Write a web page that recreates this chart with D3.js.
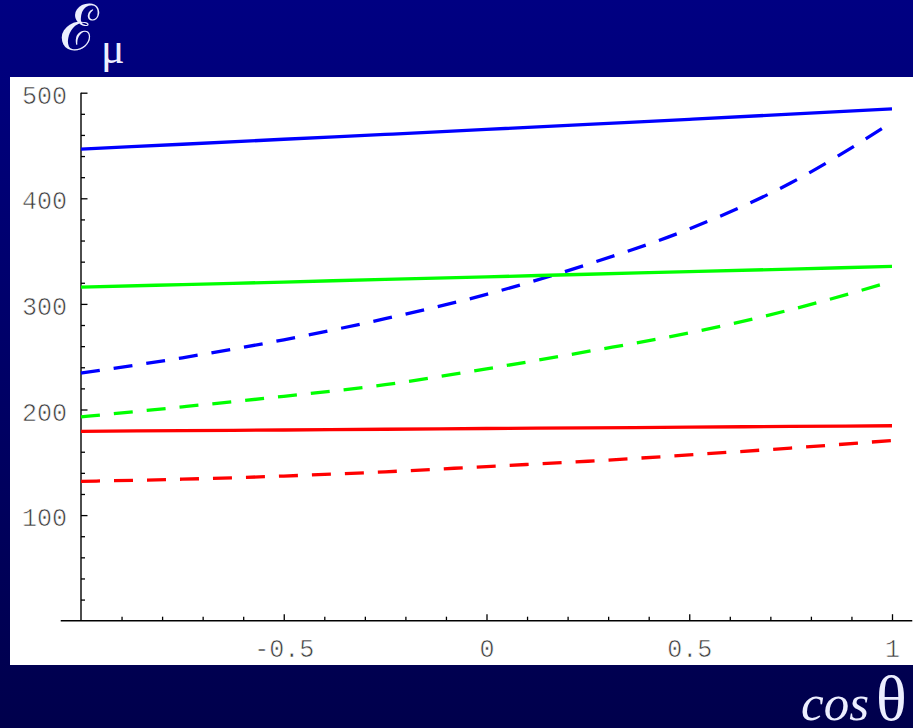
<!DOCTYPE html>
<html>
<head>
<meta charset="utf-8">
<script src="https://cdn.jsdelivr.net/npm/d3@7"></script>
<style>
  html, body { margin: 0; padding: 0; background: #000066; }
  svg { display: block; }
</style>
</head>
<body>
<svg id="chart" width="913" height="728"></svg>
<script>
// Muon energy versus cos(theta): solid and dashed curves for three cases
const cosTheta = [-1, -0.75, -0.5, -0.25, 0, 0.25, 0.5, 0.75, 1];
const blueSolid  = [446.5, 451.2, 455.9, 460.5, 465.2, 470.0, 474.8, 479.7, 484.7];
const blueDashed = [234.5, 249, 266, 286, 309, 337.5, 371, 414.5, 472];
const greenSolid  = [315.8, 318.3, 320.7, 323.2, 325.6, 328.1, 330.5, 333.0, 335.5];
const greenDashed = [193, 202.5, 212.5, 223.5, 238.5, 255, 272.5, 294.5, 321.3];
const redSolid  = [179.3, 180.0, 180.6, 181.3, 182.0, 182.6, 183.3, 184.0, 184.6];
const redDashed = [132, 134, 137, 141, 146, 151, 157, 163.5, 170.7];

const xMajorTicks = [-0.5, 0, 0.5, 1];
const xTickLabels = ["-0.5", "0", "0.5", "1"];
const yMajorTicks = [100, 200, 300, 400, 500];
const yTickLabels = ["100", "200", "300", "400", "500"];

const series = [
  { values: blueSolid,   color: "#0000ff", dashed: false },
  { values: blueDashed,  color: "#0000ff", dashed: true },
  { values: greenSolid,  color: "#00ff00", dashed: false },
  { values: greenDashed, color: "#00ff00", dashed: true },
  { values: redSolid,    color: "#ff0000", dashed: false },
  { values: redDashed,   color: "#ff0000", dashed: true }
];

const W = 913, H = 728;
const svg = d3.select("#chart");

// dark blue backdrop, fading downward
const defs = svg.append("defs");
const grad = defs.append("linearGradient").attr("id", "bg")
  .attr("x1", 0).attr("y1", 0).attr("x2", 0).attr("y2", 1);
grad.append("stop").attr("offset", "0%").attr("stop-color", "#000082");
grad.append("stop").attr("offset", "100%").attr("stop-color", "#00004c");
svg.append("rect").attr("width", W).attr("height", H).attr("fill", "url(#bg)");

// white plotting panel
svg.append("rect").attr("x", 10).attr("y", 77).attr("width", W - 10).attr("height", 588)
  .attr("fill", "#ffffff");

const x = d3.scaleLinear().domain([-1, 1]).range([81, 892]);
const y = d3.scaleLinear().domain([0, 500]).range([620.7, 92.7]);

const axisG = svg.append("g");

// axis lines
axisG.append("line")
  .attr("x1", x(-1.05)).attr("x2", x(1.05))
  .attr("y1", y(0)).attr("y2", y(0))
  .attr("stroke", "#000").attr("stroke-width", 1.4);
axisG.append("line")
  .attr("x1", x(-1)).attr("x2", x(-1))
  .attr("y1", y(0)).attr("y2", y(500))
  .attr("stroke", "#000").attr("stroke-width", 1.4);

const labelFont = "'Liberation Mono', 'Courier New', monospace";

// x axis: major ticks with labels, minor ticks every 0.1
const xMinor = d3.range(-9, 11).map(d => d / 10).filter(d => !xMajorTicks.some(m => Math.abs(m - d) < 1e-9));
const xAxisMinor = d3.axisBottom(x).tickValues(xMinor).tickSize(-4).tickFormat("");
const xAxisMajor = d3.axisBottom(x).tickValues(xMajorTicks).tickSize(-6.5)
  .tickPadding(22).tickFormat((d, i) => xTickLabels[i]);

const gxMinor = axisG.append("g").attr("transform", `translate(0,${y(0)})`).call(xAxisMinor);
const gxMajor = axisG.append("g").attr("transform", `translate(0,${y(0)})`).call(xAxisMajor);

// y axis: major ticks with labels, minor ticks every 20
const yMinor = d3.range(20, 500, 20).filter(d => d % 100 !== 0);
const yAxisMinor = d3.axisLeft(y).tickValues(yMinor).tickSize(-4).tickFormat("");
const yAxisMajor = d3.axisLeft(y).tickValues(yMajorTicks).tickSize(-6.5)
  .tickPadding(14).tickFormat((d, i) => yTickLabels[i]);

const gyMinor = axisG.append("g").attr("transform", `translate(${x(-1)},0)`).call(yAxisMinor);
const gyMajor = axisG.append("g").attr("transform", `translate(${x(-1)},0)`).call(yAxisMajor);

[gxMinor, gxMajor, gyMinor, gyMajor].forEach(g => {
  g.select(".domain").remove();
  g.selectAll(".tick line").attr("stroke", "#000").attr("stroke-width", 1.3);
  // thin, typewriter-like labels: a white outline drawn over the fill slims the glyphs
  g.selectAll(".tick text")
    .attr("font-family", labelFont)
    .attr("font-size", 25)
    .attr("fill", "#3a3a3a")
    .attr("stroke", "#ffffff")
    .attr("stroke-width", 0.6)
    .style("paint-order", "fill");
});
gxMajor.selectAll(".tick text").attr("y", 28).attr("dy", "0.35em");
gyMajor.selectAll(".tick text").attr("dy", "0.42em");

// curves
const line = d3.line()
  .x((d, i) => x(cosTheta[i]))
  .y(d => y(d))
  .curve(d3.curveMonotoneX);

svg.append("g").selectAll("path")
  .data(series)
  .join("path")
  .attr("d", s => line(s.values))
  .attr("fill", "none")
  .attr("stroke", s => s.color)
  .attr("stroke-width", 3.3)
  .attr("stroke-dasharray", s => s.dashed ? "19,14" : null);

// axis titles
const title = svg.append("text")
  .attr("x", 60).attr("y", 50)
  .attr("fill", "#eceeff");
title.append("tspan")
  .attr("font-family", "'DejaVu Serif', serif")
  .attr("font-size", 64)
  .text("ℰ");
title.append("tspan")
  .attr("font-family", "'Liberation Serif', 'Times New Roman', serif")
  .attr("font-size", 44)
  .attr("dx", 2)
  .attr("dy", 13)
  .text("μ");

const xTitle = svg.append("text")
  .attr("x", 801).attr("y", 720)
  .attr("fill", "#eceeff")
  .attr("font-family", "'Liberation Serif', 'Times New Roman', serif");
xTitle.append("tspan").attr("font-style", "italic").attr("font-size", 51).text("cos");
xTitle.append("tspan").attr("font-size", 64).attr("dx", 7).text("θ");
</script>
</body>
</html>
